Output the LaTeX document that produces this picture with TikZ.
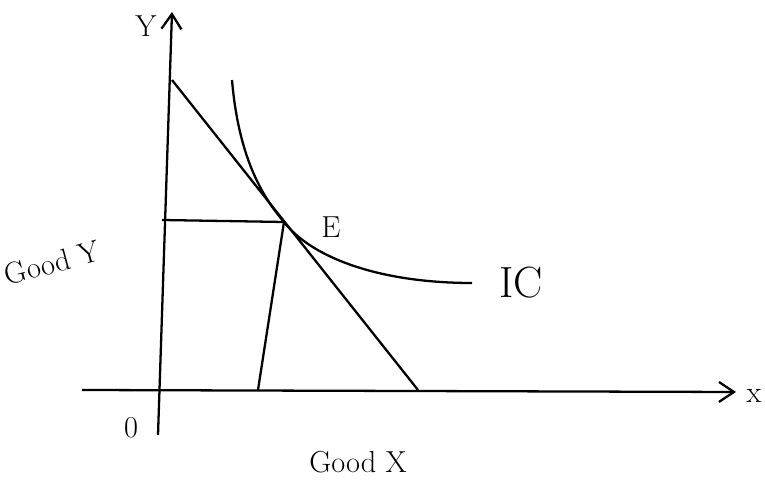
\documentclass[tikz,border=0pt]{standalone}
\usepackage{tikz}
\usetikzlibrary{arrows.meta,positioning,calc}

\begin{document}
\begin{tikzpicture}[
    x=0.02cm, y=-0.02cm,
    axis/.style={line width=1.3pt, -{Straight Barb[length=3mm,width=4mm]}},
    curve/.style={line width=1.3pt},
    guide/.style={line width=1.3pt},
    lbl/.style={font=\LARGE, inner sep=1pt},
]
\useasboundingbox (0,0) rectangle (765,482);

% === AXES ===
\coordinate (origin) at (160,392);
\coordinate (ybot) at (158,435);
\coordinate (ytop) at (172,12);
\coordinate (xleft) at (82,390);
\coordinate (xright) at (736,392);
\draw[axis] (ybot) -- (ytop);
\draw[axis] (xleft) -- (xright);

\node[lbl] (ylab) at (146,26) {Y};
\node[lbl] (xlab) at (754,396) {x};
\node[lbl] (zero) at (131,428) {0};

% === BUDGET LINE AND IC ===
\coordinate (budtop) at (172,80);
\coordinate (budbot) at (418,390);
\coordinate (eq) at (284,222);
\draw[curve] (budtop) -- (budbot);

\coordinate (icstart) at (232,80);
\coordinate (icend) at (472,283);
\draw[curve] (icstart) .. controls (238,150) and (258,192) .. (eq)
    .. controls (312,258) and (380,283) .. (icend);

% === DROP LINES ===
\coordinate (yval) at (162,220);
\coordinate (xval) at (258,390);
\draw[guide] (yval) -- (eq);
\draw[guide] (eq) -- (xval);

\node[lbl] (elab) at (331,227) {E};
\node[lbl, font=\Huge, right=0.5cm of icend] (iclab) {IC};

% === LABELS ===
\node[lbl, rotate=15] (goody) at (52,263) {Good~Y};
\node[lbl] (goodx) at (358,462) {Good X};

\end{tikzpicture}
\end{document}
